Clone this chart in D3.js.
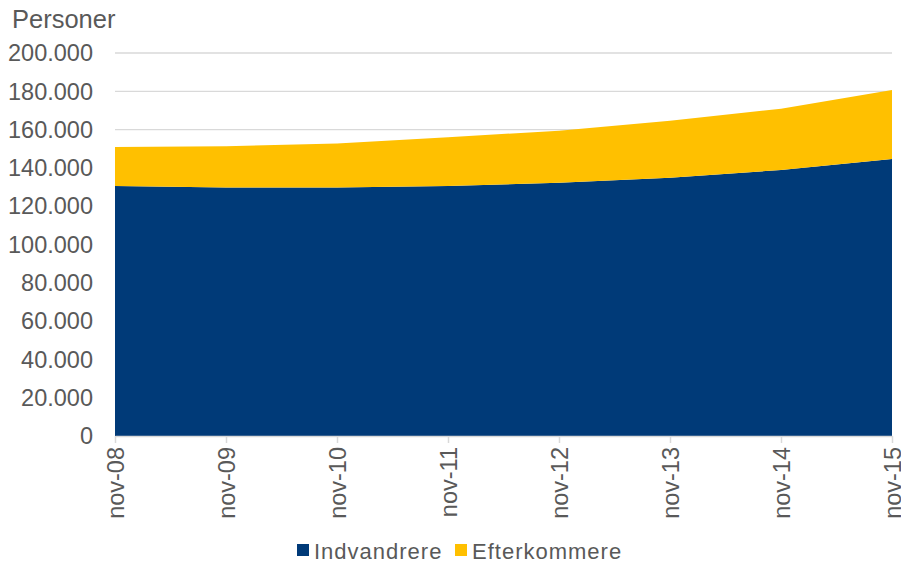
<!DOCTYPE html>
<html>
<head>
<meta charset="utf-8">
<script src="https://cdn.jsdelivr.net/npm/d3@7"></script>
<style>
  body { margin: 0; background: #fff; }
  svg { display: block; font-family: "Liberation Sans", Arial, sans-serif; }
</style>
</head>
<body>
<div id="chart"></div>
<script>
// data (persons, November each year)
const months = ["nov-08", "nov-09", "nov-10", "nov-11", "nov-12", "nov-13", "nov-14", "nov-15"];
const indvandrere = [130500, 129800, 129800, 130500, 132300, 134800, 138900, 144700];
const efterkommere = [20400, 21500, 22900, 25500, 27100, 29800, 32000, 36000];
const yTicks = [0, 20000, 40000, 60000, 80000, 100000, 120000, 140000, 160000, 180000, 200000];
const seriesNames = ["Indvandrere", "Efterkommere"];
const colors = ["#003a78", "#ffc000"];

const W = 901, H = 563;
const margin = {top: 53, right: 9, bottom: 127, left: 115};
const width = W - margin.left - margin.right;
const height = H - margin.top - margin.bottom;
const textColor = "#595959";

const rows = months.map((m, i) => ({month: m, Indvandrere: indvandrere[i], Efterkommere: efterkommere[i]}));
const stacked = d3.stack().keys(seriesNames)(rows);

const x = d3.scalePoint().domain(months).range([0, width]);
const y = d3.scaleLinear().domain([0, 200000]).range([height, 0]);
const fmt = v => v === 0 ? "0" : d3.format(",")(v).replace(/,/g, ".");

const svg = d3.select("#chart").append("svg")
    .attr("width", W)
    .attr("height", H);

const g = svg.append("g").attr("transform", `translate(${margin.left},${margin.top})`);

// gridlines
g.append("g")
    .selectAll("line")
    .data(yTicks.filter(d => d > 0))
    .join("line")
    .attr("x1", 0).attr("x2", width)
    .attr("y1", d => y(d)).attr("y2", d => y(d))
    .attr("stroke", "#d9d9d9")
    .attr("stroke-width", 1.3);

// areas
const area = d3.area()
    .x(d => x(d.data.month))
    .y0(d => y(d[0]))
    .y1(d => y(d[1]));

g.selectAll("path.area")
    .data(stacked)
    .join("path")
    .attr("class", "area")
    .attr("fill", (d, i) => colors[i])
    .attr("d", area);

// y axis labels
g.append("g")
    .selectAll("text")
    .data(yTicks)
    .join("text")
    .attr("x", -22)
    .attr("y", d => y(d))
    .attr("dy", "0.35em")
    .attr("text-anchor", "end")
    .attr("fill", textColor)
    .style("font-size", "23.5px")
    .text(fmt);

// x axis
const xAxis = g.append("g")
    .attr("transform", `translate(0,${height})`)
    .call(d3.axisBottom(x).tickSize(7).tickSizeOuter(0).tickPadding(8));
xAxis.select(".domain").attr("stroke", "#d9d9d9").attr("stroke-width", 1.5);
xAxis.selectAll(".tick line").attr("stroke", "#d9d9d9").attr("stroke-width", 1.5);
xAxis.selectAll(".tick text")
    .attr("fill", textColor)
    .style("font-size", "23.5px")
    .style("font-family", "'Liberation Sans', Arial, sans-serif")
    .attr("text-anchor", "end")
    .attr("transform", "rotate(-90)")
    .attr("x", -11)
    .attr("y", 0)
    .attr("dy", "0.35em");

// y title
svg.append("text")
    .attr("x", 12)
    .attr("y", 28)
    .attr("fill", textColor)
    .style("font-size", "25.5px")
    .text("Personer");

// legend
const legend = svg.append("g").attr("transform", "translate(297,551)");
const legendX = [0, 158];
seriesNames.forEach((name, i) => {
    const item = legend.append("g").attr("transform", `translate(${legendX[i]},0)`);
    item.append("rect")
        .attr("x", 0).attr("y", -7)
        .attr("width", 12).attr("height", 12)
        .attr("fill", colors[i]);
    item.append("text")
        .attr("x", 17)
        .attr("y", 0)
        .attr("dy", "0.35em")
        .attr("fill", textColor)
        .style("font-size", "22px")
        .style("letter-spacing", "1px")
        .text(name);
});
</script>
</body>
</html>
